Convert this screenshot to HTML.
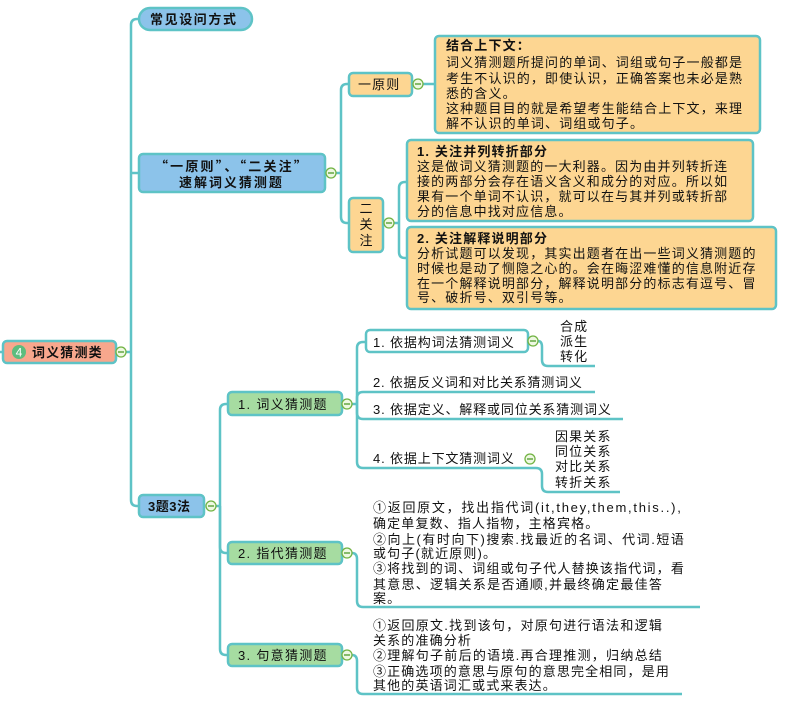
<!DOCTYPE html>
<html><head><meta charset="utf-8">
<style>
html,body{margin:0;padding:0;background:#fff;}
svg{display:block;}
text{font-family:"Liberation Sans","Noto Sans CJK SC",sans-serif;font-size:13px;fill:#111;letter-spacing:1.15px;}
.b{font-weight:bold;}
.cj{font-family:"Noto Sans CJK SC",sans-serif;}
.ln{fill:none;stroke:#5ec3c6;stroke-width:2.5;}
.bx{stroke:#5ec3c6;stroke-width:2.5;}
.ci{fill:#eef8e2;stroke:#72b343;stroke-width:1.3;}
.cm{stroke:#4d9a2a;stroke-width:1.3;}
</style></head><body>
<svg width="800" height="701" viewBox="0 0 800 701" xmlns="http://www.w3.org/2000/svg">
<!-- connectors -->
<path class="ln" d="M0,352 H3"/>
<path class="ln" d="M126,352 H131"/>
<path class="ln" d="M131,352 V25 Q131,19 137,19 H140"/>
<path class="ln" d="M131,173 H140"/>
<path class="ln" d="M131,352 V500 Q131,506 137,506 H140"/>

<path class="ln" d="M336,173 H341"/>
<path class="ln" d="M341,173 V90 Q341,84 347,84 H350"/>
<path class="ln" d="M341,173 V217 Q341,223 347,223 H350"/>
<path class="ln" d="M423,84 H436"/>
<path class="ln" d="M394,223 H399"/>
<path class="ln" d="M399,223 V188 Q399,182 405,182 H408"/>
<path class="ln" d="M399,223 V252 Q399,258 405,258 H408"/>

<path class="ln" d="M216,506 H220"/>
<path class="ln" d="M220,506 V410 Q220,404 226,404 H229"/>
<path class="ln" d="M220,506 V547 Q220,553 226,553 H229"/>
<path class="ln" d="M220,506 V649 Q220,655 226,655 H229"/>

<path class="ln" d="M352,404 H357"/>
<path class="ln" d="M357,404 V348 Q357,342 363,342 H367"/>
<path class="ln" d="M357,404 V398 Q357,392 363,392 H595"/>
<path class="ln" d="M357,404 V413 Q357,419 363,419 H623"/>
<path class="ln" d="M357,404 V462 Q357,468 363,468 H536 Q542,468 542,474 V486 Q542,492 548,492 H620"/>
<path class="ln" d="M538,341 Q542,341 542,347 V360 Q542,366 548,366 H595"/>

<path class="ln" d="M352,553 Q357,553 357,559 V601 Q357,607 363,607 H700"/>
<path class="ln" d="M352,655 Q357,655 357,661 V688 Q357,694 363,694 H682"/>

<!-- boxes -->
<rect class="bx" x="3" y="341" width="113" height="22" rx="4" fill="#f8a78d"/>
<circle cx="19" cy="352" r="7" fill="#5cbd7e"/>
<text x="19" y="356.5" text-anchor="middle" style="fill:#fff;font-size:12px;letter-spacing:0">4</text>
<text class="b" x="32" y="357">词义猜测类</text>

<rect class="bx" x="139" y="8" width="113" height="22" rx="11" fill="#8cc3ea"/>
<text class="b" x="150" y="24" style="letter-spacing:1.6px">常见设问方式</text>

<rect class="bx" x="139" y="154" width="186" height="38" rx="4" fill="#8cc3ea"/>
<text class="b cj" x="155" y="171" textLength="153" lengthAdjust="spacing">“一原则”、“二关注”</text>
<text class="b" x="179" y="187" textLength="104" lengthAdjust="spacing">速解词义猜测题</text>

<rect class="bx" x="349" y="73" width="63" height="23" rx="4" fill="#fdd692"/>
<text x="358" y="89">一原则</text>

<rect class="bx" x="349" y="198" width="34" height="54" rx="4" fill="#fdd692"/>
<text x="366" y="213" text-anchor="middle" style="letter-spacing:0">二</text>
<text x="366" y="229" text-anchor="middle" style="letter-spacing:0">关</text>
<text x="366" y="245" text-anchor="middle" style="letter-spacing:0">注</text>

<rect class="bx" x="435" y="36" width="325" height="97" rx="4" fill="#fdd692"/>
<text class="b" x="446" y="50">结合上下文：</text>
<text x="446" y="67">词义猜测题所提问的单词、词组或句子一般都是</text>
<text x="446" y="83">考生不认识的，即使认识，正确答案也未必是熟</text>
<text x="446" y="98">悉的含义。</text>
<text x="446" y="113">这种题目目的就是希望考生能结合上下文，来理</text>
<text x="446" y="128">解不认识的单词、词组或句子。</text>

<rect class="bx" x="407" y="140" width="346" height="81" rx="4" fill="#fdd692"/>
<text class="b" x="417" y="156">1. 关注并列转折部分</text>
<text x="417" y="171">这是做词义猜测题的一大利器。因为由并列转折连</text>
<text x="417" y="186">接的两部分会存在语义含义和成分的对应。所以如</text>
<text x="417" y="201">果有一个单词不认识，就可以在与其并列或转折部</text>
<text x="417" y="216">分的信息中找对应信息。</text>

<rect class="bx" x="407" y="227" width="369" height="82" rx="4" fill="#fdd692"/>
<text class="b" x="417" y="243">2. 关注解释说明部分</text>
<text x="417" y="258">分析试题可以发现，其实出题者在出一些词义猜测题的</text>
<text x="417" y="273">时候也是动了恻隐之心的。会在晦涩难懂的信息附近存</text>
<text x="417" y="288">在一个解释说明部分，解释说明部分的标志有逗号、冒</text>
<text x="417" y="302">号、破折号、双引号等。</text>

<rect class="bx" x="139" y="495" width="65" height="22" rx="4" fill="#8cc3ea"/>
<text class="b" x="148" y="511" style="letter-spacing:0.5px">3题3法</text>

<rect class="bx" x="228" y="392" width="114" height="23" rx="4" fill="#a6dca1"/>
<text x="238" y="409" style="letter-spacing:1.3px">1.  词义猜测题</text>
<rect class="bx" x="228" y="542" width="114" height="22" rx="4" fill="#a6dca1"/>
<text x="238" y="558" style="letter-spacing:1.3px">2.  指代猜测题</text>
<rect class="bx" x="228" y="644" width="114" height="22" rx="4" fill="#a6dca1"/>
<text x="238" y="660" style="letter-spacing:1.3px">3.  句意猜测题</text>

<rect class="bx" x="366" y="330" width="162" height="22" rx="4" fill="#fff"/>
<text x="373" y="347" textLength="142" lengthAdjust="spacing">1. 依据构词法猜测词义</text>
<text x="560" y="331">合成</text>
<text x="560" y="346">派生</text>
<text x="560" y="361">转化</text>
<text x="373" y="387" textLength="210" lengthAdjust="spacing">2. 依据反义词和对比关系猜测词义</text>
<text x="373" y="414" textLength="239" lengthAdjust="spacing">3. 依据定义、解释或同位关系猜测词义</text>
<text x="373" y="463" textLength="142" lengthAdjust="spacing">4. 依据上下文猜测词义</text>
<text x="555" y="441">因果关系</text>
<text x="555" y="456">同位关系</text>
<text x="555" y="471">对比关系</text>
<text x="555" y="487">转折关系</text>

<text x="373" y="512" textLength="309" lengthAdjust="spacing">①返回原文，找出指代词(it,they,them,this..),</text>
<text x="373" y="528">确定单复数、指人指物，主格宾格。</text>
<text x="373" y="544" textLength="312" lengthAdjust="spacing">②向上(有时向下)搜索.找最近的名词、代词.短语</text>
<text x="373" y="558">或句子(就近原则)。</text>
<text x="373" y="573" textLength="312" lengthAdjust="spacing">③将找到的词、词组或句子代人替换该指代词，看</text>
<text x="373" y="589" textLength="290" lengthAdjust="spacing">其意思、逻辑关系是否通顺,并最终确定最佳答</text>
<text x="373" y="603">案。</text>

<text x="373" y="630" textLength="290" lengthAdjust="spacing">①返回原文.找到该句，对原句进行语法和逻辑</text>
<text x="373" y="645">关系的准确分析</text>
<text x="373" y="660" textLength="290" lengthAdjust="spacing">②理解句子前后的语境.再合理推测，归纳总结</text>
<text x="373" y="676" textLength="297" lengthAdjust="spacing">③正确选项的意思与原句的意思完全相同，是用</text>
<text x="373" y="690">其他的英语词汇或式来表达。</text>

<!-- collapse icons -->
<g>
<circle class="ci" cx="121" cy="352" r="5"/><line class="cm" x1="118" y1="352" x2="124" y2="352"/>
<circle class="ci" cx="331" cy="173" r="5"/><line class="cm" x1="328" y1="173" x2="334" y2="173"/>
<circle class="ci" cx="418" cy="84" r="5"/><line class="cm" x1="415" y1="84" x2="421" y2="84"/>
<circle class="ci" cx="389" cy="223" r="5"/><line class="cm" x1="386" y1="223" x2="392" y2="223"/>
<circle class="ci" cx="211" cy="506" r="5"/><line class="cm" x1="208" y1="506" x2="214" y2="506"/>
<circle class="ci" cx="347" cy="404" r="5"/><line class="cm" x1="344" y1="404" x2="350" y2="404"/>
<circle class="ci" cx="347" cy="553" r="5"/><line class="cm" x1="344" y1="553" x2="350" y2="553"/>
<circle class="ci" cx="347" cy="655" r="5"/><line class="cm" x1="344" y1="655" x2="350" y2="655"/>
<circle class="ci" cx="533" cy="341" r="5"/><line class="cm" x1="530" y1="341" x2="536" y2="341"/>
<circle class="ci" cx="530" cy="459" r="5"/><line class="cm" x1="527" y1="459" x2="533" y2="459"/>
</g>
</svg>
</body></html>
